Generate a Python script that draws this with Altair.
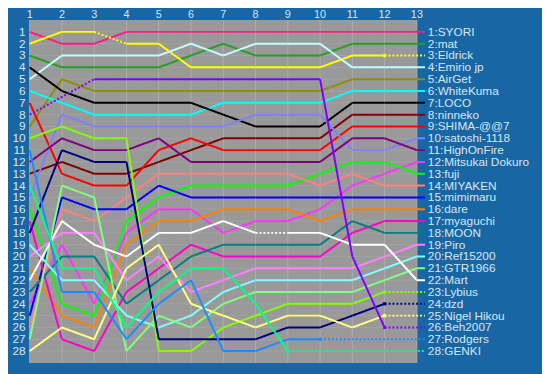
import altair as alt
import pandas as pd

laps = list(range(1, 14))
rank_ticks = list(range(1, 29))

names = ["SYORI", "mat", "Eldrick", "Emirio jp", "AirGet", "WhiteKuma", "LOCO",
         "ninneko", "SHIMA-@@7", "satoshi-1118", "HighOnFire", "Mitsukai Dokuro",
         "fuji", "MIYAKEN", "mimimaru", "dare", "myaguchi", "MOON", "Piro",
         "Ref15200", "GTR1966", "Mart", "Lybius", "dzd", "Nigel Hikou",
         "Beh2007", "Rodgers", "GENKI"]

colors = ["#ff1a8c", "#22a022", "#ffff00", "#c0ffff", "#8f8f00", "#00ffff", "#000000",
          "#800000", "#ff0000", "#8080ff", "#800080", "#ff33ff",
          "#00ff00", "#ff8080", "#0000ff", "#ff8000", "#ff00cc", "#008080", "#ff80ff",
          "#80ffff", "#80ff80", "#ffffff", "#80ff00", "#000080", "#ffff80",
          "#8000ff", "#1e8cff", "#00ff80"]

# rank per lap (None = no data for that lap)
ranks = [
    [1, 2, 2, 1, 1, 1, 1, 1, 1, 1, 1, 1, 1],            # SYORI
    [3, 4, 4, 4, 4, 3, 2, 3, 3, 3, 2, 2, 2],            # mat
    [2, 1, 1, 2, 2, 4, 4, 4, 4, 4, 3, 3, None],         # Eldrick
    [5, 3, 3, 3, 3, 2, 3, 2, 2, 2, 4, 4, 4],            # Emirio jp
    [9, 5, 6, 6, 6, 6, 6, 6, 6, 6, 5, 5, 5],            # AirGet
    [6, 7, 8, 8, 8, 8, 7, 7, 7, 7, 6, 6, 6],            # WhiteKuma
    [4, 6, 7, 7, 7, 7, 8, 9, 9, 9, 7, 7, 7],            # LOCO
    [13, 12, 13, 13, 12, 11, 10, 10, 10, 10, 8, 8, 8],  # ninneko
    [7, 13, 14, 14, 11, 10, 11, 11, 11, 11, 9, 9, 9],   # SHIMA-@@7
    [15, 8, 9, 9, 9, 9, 9, 8, 8, 8, 11, 11, 10],        # satoshi-1118
    [12, 10, 11, 11, 10, 12, 12, 12, 12, 12, 10, 10, 11],  # HighOnFire
    [24, 19, 24, 18, 16, 16, 18, 17, 17, 16, 14, 13, 12],  # Mitsukai Dokuro
    [16, 24, 25, 17, 15, 14, 14, 14, 14, 13, 12, 12, 13],  # fuji
    [26, 16, 17, 15, 13, 13, 13, 13, 13, 14, 13, 14, 14],  # MIYAKEN
    [25, 15, 16, 16, 14, 15, 15, 15, 15, 15, 15, 15, 15],  # mimimaru
    [21, 25, 26, 19, 17, 17, 16, 16, 16, 17, 16, 16, 16],  # dare
    [17, 27, 28, 23, 21, 19, 20, 20, 20, 20, 18, 17, 17],  # myaguchi
    [23, 20, 20, 24, 22, 20, 19, 19, 19, 19, 17, 18, 18],  # MOON
    [20, 18, 18, 22, 20, 23, 22, 21, 21, 21, 21, 20, 19],  # Piro
    [19, 22, 22, 25, 26, 25, 23, 22, 22, 22, 22, 21, 20],  # Ref15200
    [27, 14, 15, 28, 25, 26, 24, 23, 23, 23, 23, 22, 21],  # GTR1966
    [22, 17, 19, 20, 18, 18, 17, 18, 18, 18, 19, 19, 22],  # Mart
    [10, 9, 10, 10, 28, 28, 26, 25, 24, 24, 24, 23, None],  # Lybius
    [18, 11, 12, 12, 27, 27, 27, 27, 26, 26, 25, 24, None],  # dzd
    [28, 26, 27, 21, 19, 24, 25, 26, 25, 25, 26, 25, None],  # Nigel Hikou
    [8, None, 5, 5, 5, 5, 5, 5, 5, 5, 20, 26, None],     # Beh2007
    [11, 23, 23, 27, 24, 22, 28, 28, 27, 27, None, None, None],  # Rodgers
    [14, 21, 21, 26, 23, 21, 21, 24, 28, None, None, None, None],  # GENKI
]

# segments drawn dotted: (player index, lap where the dotted segment starts)
dotted_starts = [(2, 3), (21, 8)]

TAIL_X = 13.25
LABEL_X = 13.34

rows = []
ends = []
for i, (nm, rk) in enumerate(zip(names, ranks)):
    pts = [(lap, r) for lap, r in zip(laps, rk) if r is not None]
    seg = 0
    for (l0, r0), (l1, r1) in zip(pts[:-1], pts[1:]):
        style = "dotted" if (l1 - l0 > 1 or (i, l0) in dotted_starts) else "solid"
        seg += 1
        key = f"{i}-{seg}"
        rows.append({"player": nm, "seg": key, "lap": l0, "rank": r0, "style": style, "ord": 0})
        rows.append({"player": nm, "seg": key, "lap": l1, "rank": r1, "style": style, "ord": 1})
    last_lap, last_rank = pts[-1]
    style = "solid" if last_lap == 13 else "dotted"
    key = f"{i}-tail"
    rows.append({"player": nm, "seg": key, "lap": last_lap, "rank": last_rank, "style": style, "ord": 0})
    rows.append({"player": nm, "seg": key, "lap": TAIL_X, "rank": i + 1, "style": style, "ord": 1})
    ends.append({"player": nm, "lap": last_lap, "rank": last_rank, "early": last_lap < 13,
                 "label": f"{i + 1}:{nm}", "final": i + 1, "lx": LABEL_X})

df = pd.DataFrame(rows)
df_end = pd.DataFrame(ends)

bg = "#1966a4"
txt = "#d6e6f2"
FONT = "Liberation Sans"

xscale = alt.Scale(domain=[1, 13], nice=False, zero=False)
yscale = alt.Scale(domain=[0, 29], reverse=True, nice=False, zero=False)
cscale = alt.Scale(domain=names, range=colors)

X = lambda f: alt.X(f, scale=xscale, axis=None)
Y = lambda f: alt.Y(f, scale=yscale, axis=None)

df_lap = pd.DataFrame({"lap": laps, "y0": 0, "y1": 29, "ty": -0.44})
df_rank = pd.DataFrame({"rank": rank_ticks, "x0": 1, "x1": 13, "tx": 0.875})

vgrid = alt.Chart(df_lap).mark_rule(color="#adadad", strokeWidth=1).encode(
    x=X("lap:Q"), y=Y("y0:Q"), y2="y1:Q")
hgrid = alt.Chart(df_rank).mark_rule(color="#a3a3a3", strokeWidth=1).encode(
    y=Y("rank:Q"), x=X("x0:Q"), x2="x1:Q")

top_labels = alt.Chart(df_lap).mark_text(align="center", baseline="middle", fontSize=11,
                                         font=FONT, color=txt, clip=False).encode(
    x=X("lap:Q"), y=Y("ty:Q"), text="lap:N")
left_labels = alt.Chart(df_rank).mark_text(align="right", baseline="middle", fontSize=12,
                                           font=FONT, color=txt, clip=False).encode(
    x=X("tx:Q"), y=Y("rank:Q"), text="rank:N")

lines = alt.Chart(df).mark_line(strokeWidth=2, clip=False, strokeJoin="round").encode(
    x=X("lap:Q"),
    y=Y("rank:Q"),
    color=alt.Color("player:N", scale=cscale, legend=None),
    detail="seg:N",
    order="ord:Q",
    strokeDash=alt.StrokeDash("style:N", scale=alt.Scale(domain=["solid", "dotted"],
                                                       range=[[1, 0], [2, 2]]), legend=None),
)

markers = alt.Chart(df_end).transform_filter("datum.early").mark_square(size=10, opacity=1).encode(
    x=X("lap:Q"), y=Y("rank:Q"),
    color=alt.Color("player:N", scale=cscale, legend=None),
)

labels = alt.Chart(df_end).mark_text(align="left", baseline="middle", fontSize=12,
                                     font=FONT, color=txt, clip=False).encode(
    x=X("lx:Q"), y=Y("final:Q"), text="label:N",
)

chart = alt.layer(vgrid, hgrid, top_labels, left_labels, lines, markers, labels).properties(
    width=393, height=348,
    autosize=alt.AutoSizeParams(type="none"),
    padding={"left": 22, "top": 9.5, "right": 127, "bottom": 8.5},
    background=bg,
).configure_view(fill="#999999", stroke=None)

chart.save("out.html", embed_options={"renderer": "svg", "actions": False})
